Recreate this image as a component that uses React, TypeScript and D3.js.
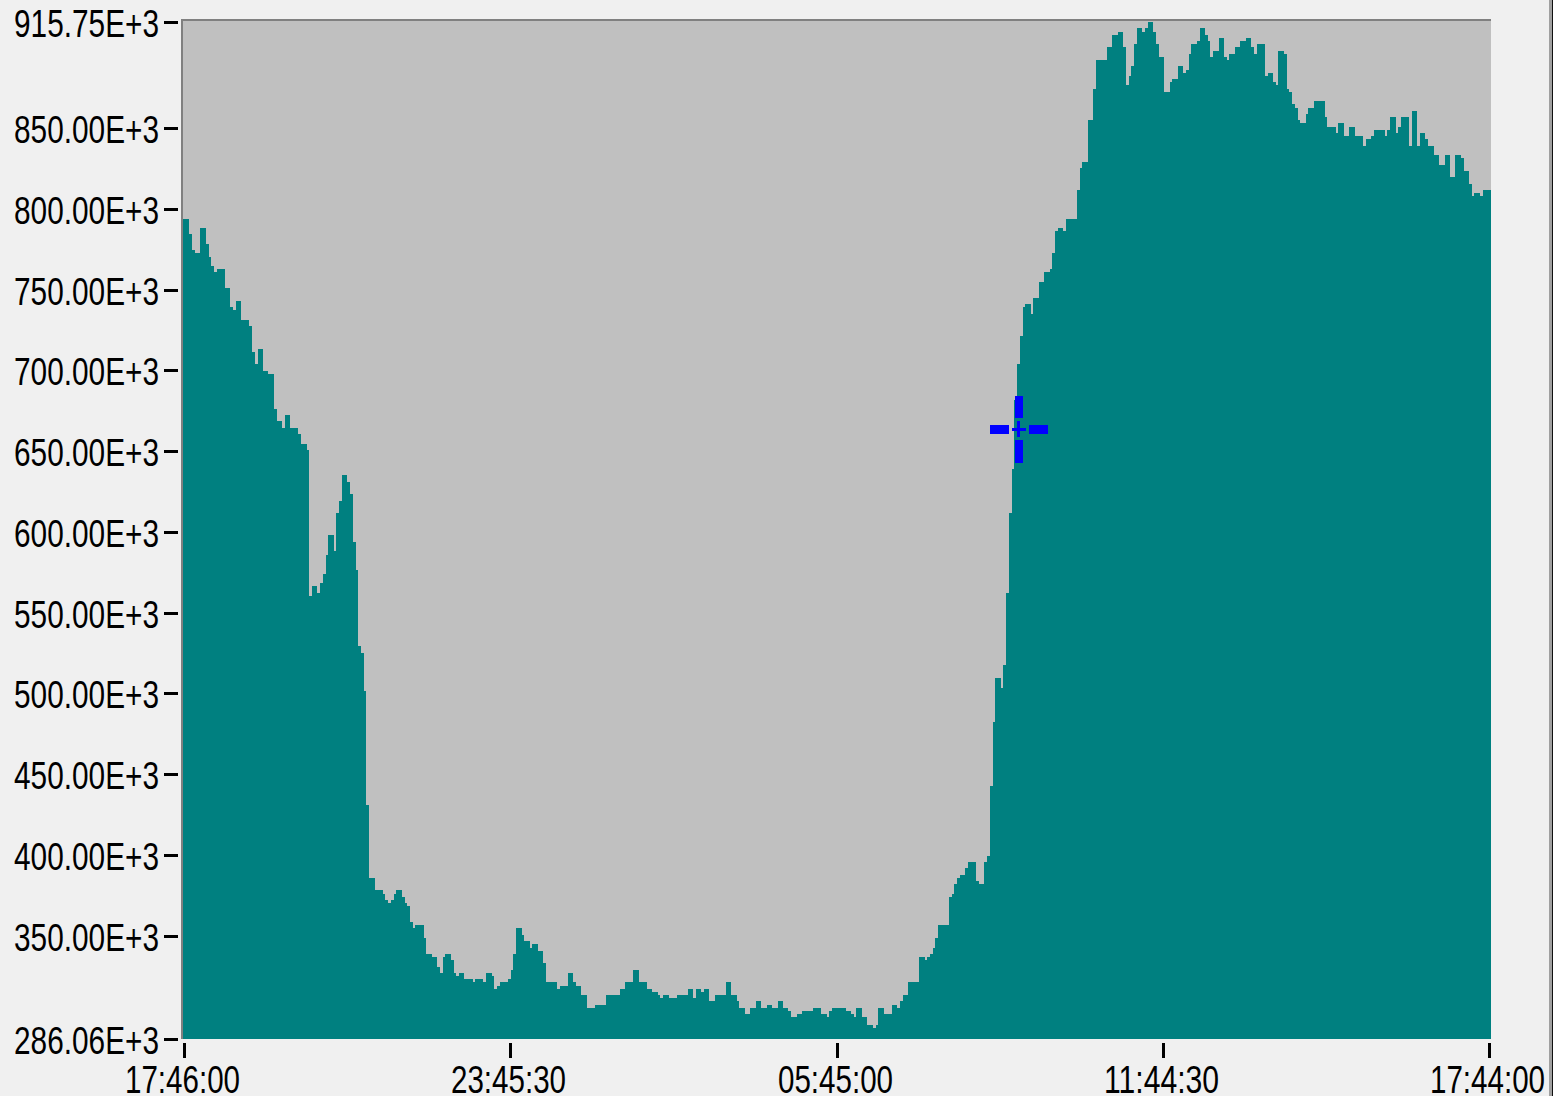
import React from "react";
import * as d3 from "d3";

// Logged load values, one sample every 3 minutes, in units of 1E+3.
const SAMPLE_MINUTES = 3;
const START_TIME = new Date(2000, 0, 1, 17, 46, 0);
const SPAN_MINUTES = 1438;

const LOAD: number[] = [
  793.7, 793.7, 784.7, 774.6, 772.9, 772.9, 788.2, 788.2, 778.5, 770.5,
  764.8, 761.1, 762.8, 762.8, 762.8, 751, 751, 739.5, 737.4, 743,
  743, 731.2, 731.2, 731.2, 727.5, 711.4, 704.2, 713.3, 713.3, 699.6,
  699.6, 697.8, 697.8, 676.1, 668.9, 668.9, 664.4, 672.4, 672.4, 664.4,
  664.4, 664.4, 660.6, 654.4, 654.4, 650.7, 560.3, 566.5, 566.5, 562.2,
  568.1, 573.9, 585.6, 598, 598, 588.4, 611.7, 619.2, 635.2, 635.2,
  630.9, 623.5, 593.7, 576.4, 529.4, 525, 501.5, 431, 385.7, 385.7,
  378.3, 378.3, 378.3, 375.8, 372, 370.2, 372, 375.8, 378.3, 378.3,
  374, 370.2, 368.3, 358.5, 354.7, 356.6, 356.6, 356.6, 348.6, 338.6,
  338.6, 336.8, 336.8, 330.6, 326.9, 336.8, 338.6, 338.6, 334.9, 326.9,
  325, 326.9, 326.9, 323.2, 323.2, 323.2, 321.3, 323.2, 323.2, 323.2,
  321.3, 326.9, 326.9, 325, 317, 318.8, 321.3, 321.3, 321.3, 323.2,
  328.7, 338.6, 354.7, 354.7, 350.4, 346.7, 346.7, 342.4, 344.8, 344.8,
  340.5, 340.5, 333.1, 321.3, 321.3, 321.3, 321.3, 317, 318.8, 318.8,
  318.8, 326.9, 326.9, 321.3, 318.8, 318.8, 313.2, 313.2, 305.2, 305.2,
  305.2, 307, 307, 307, 307, 313.2, 313.2, 313.2, 313.2, 313.2,
  317, 317, 321.3, 321.3, 321.3, 328.7, 328.7, 321.3, 321.3, 321.3,
  317, 317, 315.1, 315.1, 313.2, 311.4, 313.2, 313.2, 311.4, 311.4,
  311.4, 313.2, 313.2, 313.2, 313.2, 317, 317, 311.4, 317, 317,
  315.1, 317, 317, 309.5, 309.5, 313.2, 313.2, 313.2, 313.2, 321.3,
  321.3, 313.2, 313.2, 309.5, 305.2, 305.2, 301.5, 301.5, 305.2, 305.2,
  309.5, 309.5, 305.2, 305.2, 307, 307, 305.2, 305.2, 309.5, 309.5,
  305.2, 305.2, 303.4, 299.6, 299.6, 301.5, 301.5, 303.4, 303.4, 303.4,
  303.4, 305.2, 305.2, 305.2, 301.5, 301.5, 299.6, 303.4, 305.2, 305.2,
  305.2, 305.2, 305.2, 303.4, 303.4, 301.5, 299.6, 305.2, 305.2, 299.6,
  299.6, 294.9, 294.9, 293.0, 294.9, 305.2, 305.2, 301.5, 301.5, 301.5,
  307, 307, 305.2, 309.5, 313.2, 313.2, 321.3, 321.3, 321.3, 321.3,
  336.8, 336.8, 334.9, 336.8, 338.6, 342.4, 348.6, 356.6, 356.6, 356.6,
  356.6, 374, 375.8, 382, 385.7, 387.6, 387.6, 391.9, 395.8, 395.8,
  395.8, 384, 382, 382, 395.8, 399.5, 442.7, 482.4, 509.5, 509.5,
  503.4, 517.6, 562.2, 611.7, 639, 681.7, 704, 721.3, 739.5, 741.1,
  741.1, 735, 744.9, 744.9, 754.8, 754.8, 761, 761, 762.8, 772.7,
  786.3, 788.2, 788.2, 786.3, 793.7, 793.7, 793.7, 793.7, 811.7, 825.3,
  829.1, 829.1, 855.1, 855.1, 874.3, 892.2, 892.2, 892.2, 892.2, 900.3,
  900.3, 907.7, 907.7, 909.6, 909.6, 900.3, 876.7, 882.3, 888.5, 902.1,
  912, 912, 909.6, 912, 915.75, 915.75, 909.6, 902.1, 894.1, 894.1,
  872.4, 872.4, 878.6, 880.5, 880.5, 888.5, 888.5, 884.2, 886, 896,
  902.1, 902.1, 904, 912, 912, 907.7, 904, 894.1, 897.8, 897.8,
  905.8, 905.8, 894.1, 892.2, 896, 896, 900.3, 900.3, 904, 904,
  905.8, 905.8, 900.3, 896, 902.1, 902.1, 902.1, 882.3, 884.2, 884.2,
  878.6, 876.7, 897.8, 897.8, 896, 874.3, 872.4, 865, 862.5, 855.1,
  853.2, 853.2, 858.8, 862.5, 862.5, 866.8, 866.8, 866.8, 866.8, 856.9,
  850.7, 850.7, 850.7, 847, 853.2, 853.2, 845.2, 845.2, 850.7, 850.7,
  845.2, 845.2, 845.2, 839, 843.3, 843.3, 845.2, 848.9, 848.9, 848.9,
  848.9, 845.2, 848.9, 856.9, 856.9, 847, 850.7, 856.9, 856.9, 856.9,
  839, 860.6, 860.6, 839, 847, 847, 843.3, 839, 839, 833.4,
  833.4, 827.2, 827.2, 833.4, 833.4, 819.8, 819.8, 833.4, 833.4, 831.5,
  823.5, 823.5, 815.4, 808, 809.9, 809.9, 808, 811.7, 811.7, 811.7,
];

// Axis scale limits and tick values (units of 1E+3).
const Y_MIN = 286.06;
const Y_MAX = 915.75;
const Y_TICKS: number[] = [286.06, 350, 400, 450, 500, 550, 600, 650, 700, 750, 800, 850, 915.75];
const X_TICK_LABELS: string[] = ["17:46:00", "23:45:30", "05:45:00", "11:44:30", "17:44:00"];

// Cursor marker position.
const CURSOR_TIME = new Date(2000, 0, 2, 9, 5, 36);
const CURSOR_VALUE = 663.4;

const W = 1553;
const H = 1096;
const PLOT = { left: 183, right: 1491, top: 21, bottom: 1039 };
const FONT = "'Liberation Sans', Arial, sans-serif";

export default function App() {
  const t0 = START_TIME;
  const t1 = new Date(t0.getTime() + SPAN_MINUTES * 60000);

  const x = d3.scaleTime().domain([t0, t1]).range([184, 1489]);
  const y = d3.scaleLinear().domain([Y_MIN, Y_MAX]).range([PLOT.bottom, 22]);

  type Pt = { px: number; v: number };
  const pts: Pt[] = LOAD.map((v, i) => ({
    px: i === 0 ? PLOT.left : x(new Date(t0.getTime() + i * SAMPLE_MINUTES * 60000)),
    v,
  }));
  pts.push({ px: PLOT.right, v: LOAD[LOAD.length - 1] });

  const area = d3
    .area<Pt>()
    .curve(d3.curveStepAfter)
    .x((d) => d.px)
    .y0(PLOT.bottom)
    .y1((d) => y(d.v));

  const tickStep = (t1.getTime() - t0.getTime()) / (X_TICK_LABELS.length - 1);
  const xTicks = X_TICK_LABELS.map((label, i) => ({
    label,
    px: Math.round(x(new Date(t0.getTime() + i * tickStep))),
  }));

  const cx = Math.floor(x(CURSOR_TIME)) + 0.5;
  const cy = Math.floor(y(CURSOR_VALUE)) + 0.5;
  const blue = "#0000FF";

  return (
    <svg
      width={W}
      height={H}
      viewBox={`0 0 ${W} ${H}`}
      style={{ position: "absolute", left: 0, top: 0, display: "block" }}
      shapeRendering="crispEdges"
    >
      <rect x={0} y={0} width={W} height={H} fill="#F0F0F0" />
      {/* window edge */}
      <rect x={1549} y={0} width={3} height={H} fill="#A0A0A0" />
      <rect x={1552} y={0} width={1} height={H} fill="#101010" />

      {/* plot frame */}
      <rect x={181} y={19} width={PLOT.right - 181} height={2} fill="#808080" />
      <rect x={181} y={19} width={2} height={PLOT.bottom - 19} fill="#808080" />
      <rect
        x={PLOT.left}
        y={PLOT.top}
        width={PLOT.right - PLOT.left}
        height={PLOT.bottom - PLOT.top}
        fill="#C0C0C0"
      />

      {/* load area */}
      <path d={area(pts) ?? ""} fill="#008080" />

      {/* y axis */}
      {Y_TICKS.map((v) => {
        const py = Math.round(y(v));
        return (
          <g key={v}>
            <rect x={164} y={py - 1} width={14} height={3} fill="#000" />
            <text
              x={159}
              y={py + 14.5}
              textAnchor="end"
              fontFamily={FONT}
              fontSize={39}
              textLength={145}
              lengthAdjust="spacingAndGlyphs"
              fill="#000"
              shapeRendering="auto"
            >
              {`${v.toFixed(2)}E+3`}
            </text>
          </g>
        );
      })}

      {/* x axis */}
      {xTicks.map((t) => (
        <g key={t.label}>
          <rect x={t.px - 1} y={1043} width={3} height={15} fill="#000" />
          <text
            x={t.px - 1.5}
            y={1093}
            textAnchor="middle"
            fontFamily={FONT}
            fontSize={39}
            textLength={115}
            lengthAdjust="spacingAndGlyphs"
            fill="#000"
          >
            {t.label}
          </text>
        </g>
      ))}

      {/* cursor marker */}
      <g fill={blue}>
        <rect x={cx - 3.5} y={cy - 33.5} width={8} height={22} />
        <rect x={cx - 3.5} y={cy + 10.5} width={8} height={23} />
        <rect x={cx - 28.5} y={cy - 4.5} width={19} height={9} />
        <rect x={cx + 10.5} y={cy - 4.5} width={19} height={9} />
        <rect x={cx - 1.5} y={cy - 8.5} width={3} height={16} />
        <rect x={cx - 6.5} y={cy - 1.5} width={14} height={3} />
      </g>
    </svg>
  );
}
